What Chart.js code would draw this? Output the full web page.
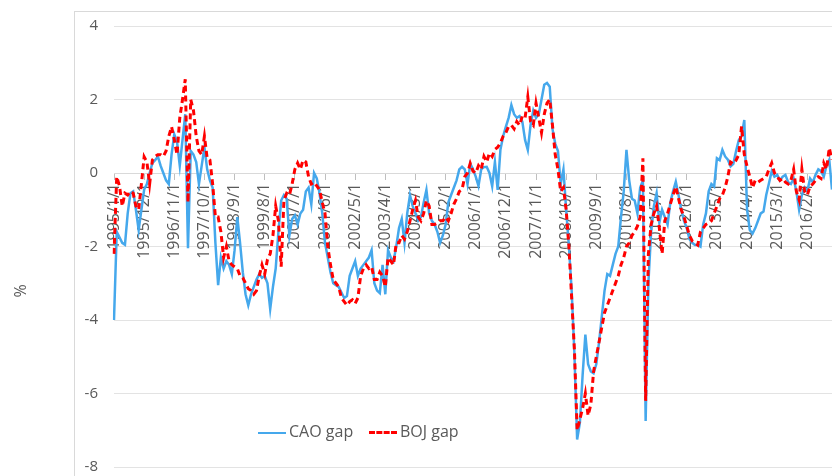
<!DOCTYPE html>
<html>
<head>
<meta charset="utf-8">
<script src="https://cdn.jsdelivr.net/npm/chart.js@4.4.0/dist/chart.umd.min.js"></script>
<style>
  html, body { margin: 0; padding: 0; background: #fff; overflow: hidden; }
  #wrap { position: relative; width: 832px; height: 476px; font-family: "Open Sans", sans-serif; color: #595959; }
  #frame { position: absolute; left: 74px; top: 11px; width: 900px; height: 600px; border: 1px solid #d9d9d9; }
  #chart { position: absolute; left: 0; top: 0; }
  #ytitle { position: absolute; left: 8px; top: 280px; width: 24px; text-align: center; font-size: 16px; transform: rotate(-90deg); }
  .leg { position: absolute; top: 420px; font-size: 16px; white-space: nowrap; }
  .leg span { display: inline-block; vertical-align: middle; width: 28px; margin-right: 3px; }
</style>
</head>
<body>
<div id="wrap">
  <div id="frame"></div>
  <canvas id="chart" width="832" height="476"></canvas>
  <div id="ytitle">%</div>
  <div class="leg" style="left:258px"><span style="border-top:2.5px solid #45a8ec"></span>CAO gap</div>
  <div class="leg" style="left:369px"><span style="border-top:3px dashed #ff0000"></span>BOJ gap</div>
</div>
<script>
// months from 1995/1/1 to 2016/11/1
const months = [];
for (let y = 1995; y <= 2016; y++) {
  for (let m = 1; m <= 12; m++) {
    if (months.length < 263) months.push(y + "/" + m + "/1");
  }
}

const caoGap = [
  // 1995
  -4.0, -1.6, -1.75, -1.9, -1.95, -1.1, -0.55, -0.5, -1.0, -1.55, -1.0, -0.45,
  // 1996
  -0.3, 0.0, 0.27, 0.35, 0.45, 0.2, 0.0, -0.2, -0.3, 0.5, 1.05, 0.85,
  // 1997
  0.2, 0.9, 1.6, -2.05, 0.6, 0.5, 0.3, -0.3, 0.2, 0.7, 0.1, -0.2,
  // 1998
  -0.4, -1.9, -3.05, -2.3, -2.6, -2.4, -2.5, -2.75, -2.1, -1.2, -1.9, -2.7,
  // 1999
  -3.3, -3.6, -3.3, -3.1, -2.9, -2.75, -2.85, -2.8, -3.0, -3.7, -3.1, -2.6,
  // 2000
  -1.6, -0.75, -0.6, -0.7, -1.7, -1.25, -1.15, -1.4, -1.1, -1.0, -0.5, -0.4,
  // 2001
  -0.85, 0.0, -0.15, -0.55, -1.1, -1.9, -2.3, -2.7, -3.0, -3.05, -3.1, -3.25,
  // 2002
  -3.4, -3.35, -2.8, -2.6, -2.4, -2.8, -2.6, -2.5, -2.4, -2.3, -2.1, -3.0,
  // 2003
  -3.2, -3.27, -2.5, -3.3, -2.1, -2.3, -2.4, -2.0, -1.5, -1.25, -1.9, -1.1,
  // 2004
  -0.6, -0.9, -1.1, -1.3, -1.2, -0.8, -0.46, -1.1, -1.3, -1.4, -1.6, -1.9,
  // 2005
  -1.7, -1.4, -0.8, -0.6, -0.4, -0.2, 0.1, 0.17, 0.1, -0.3, 0.25, 0.1,
  // 2006
  -0.1, -0.35, 0.1, 0.16, 0.17, 0.0, -0.36, 0.3, -0.46, 0.63, 1.0, 1.26,
  // 2007
  1.5, 1.85, 1.6, 1.5, 1.55, 1.4, 0.9, 0.63, 1.3, 1.7, 1.5, 1.6,
  // 2008
  2.0, 2.4, 2.45, 2.35, 1.2, 0.8, 0.6, -0.3, 0.1, -1.0, -2.0, -3.2,
  // 2009
  -4.9, -7.25, -6.8, -5.5, -4.4, -5.2, -5.4, -5.45, -5.2, -4.6, -3.9, -3.2,
  // 2010
  -2.75, -2.8, -2.5, -2.2, -2.0, -1.2, -0.5, 0.63, -0.2, -0.7, -0.75, -1.1,
  // 2011
  -0.4, -0.2, -6.75, -3.0, -1.6, -0.9, -0.55, -1.35, -1.0, -1.2, -1.4, -0.8,
  // 2012
  -0.5, -0.24, -0.6, -1.0, -1.3, -1.5, -1.8, -1.9, -1.96, -1.95, -2.0, -1.4,
  // 2013
  -1.1, -0.5, -0.3, -0.37, 0.4, 0.35, 0.63, 0.45, 0.36, 0.18, 0.25, 0.6,
  // 2014
  0.9, 1.0, 1.44, -1.0, -1.55, -1.65, -1.5, -1.3, -1.1, -1.05, -0.6, -0.28,
  // 2015
  0.05, -0.1, -0.05, -0.2, -0.1, -0.05, -0.25, -0.3, -0.15, -0.5, -1.0, -0.6,
  // 2016
  -0.4, -0.5, -0.15, -0.25, -0.05, 0.1, 0.05, -0.1, 0.2, 0.36, -0.45
];

const bojGap = [
  // 1995
  -2.2, -0.1, -0.35, -0.9, -0.55, -0.6, -0.5, -0.55, -0.9, -1.0, -0.3, 0.44,
  // 1996
  0.3, -0.3, 0.35, 0.45, 0.5, 0.5, 0.45, 0.6, 1.0, 1.26, 0.9, 0.5,
  // 1997
  1.5, 2.0, 2.55, -0.8, 2.0, 1.7, 1.0, 0.6, 0.5, 1.0, 0.4, 0.35,
  // 1998
  -0.3, -1.2, -1.2, -1.6, -2.3, -2.0, -2.4, -2.5, -2.55, -2.6, -2.8, -2.85,
  // 1999
  -3.0, -3.15, -3.2, -3.3, -3.2, -2.8, -2.5, -2.75, -2.35, -2.2, -1.7, -0.9,
  // 2000
  -1.3, -2.55, -0.75, -0.55, -0.6, -0.3, 0.1, 0.27, 0.1, 0.35, 0.3, -0.1,
  // 2001
  -0.3, -0.25, -0.35, -0.46, -0.8, -1.1, -2.0, -2.5, -2.9, -3.0, -3.1, -3.4,
  // 2002
  -3.5, -3.6, -3.5, -3.45, -3.55, -3.4, -2.8, -2.6, -2.5, -2.6, -2.55, -2.9,
  // 2003
  -2.9, -2.7, -2.8, -3.1, -2.3, -2.4, -2.5, -1.9, -1.9, -1.7, -1.8, -1.6,
  // 2004
  -1.3, -1.0, -0.75, -1.2, -1.3, -1.1, -0.75, -0.9, -1.4, -1.4, -1.36, -1.3,
  // 2005
  -1.3, -1.2, -1.3, -1.1, -0.85, -0.7, -0.5, -0.45, -0.1, 0.0, 0.26, 0.05,
  // 2006
  0.0, 0.2, 0.1, 0.45, 0.3, 0.54, 0.45, 0.64, 0.7, 0.82, 1.0, 1.1,
  // 2007
  1.27, 1.3, 1.2, 1.4, 1.3, 1.55, 1.5, 2.07, 1.4, 1.3, 1.9, 1.5,
  // 2008
  1.1, 1.6, 1.9, 2.0, 1.3, 0.5, 0.1, -0.5, -0.4, -1.0, -2.0, -3.4,
  // 2009
  -4.8, -7.0, -6.7, -6.4, -6.0, -6.6, -6.3, -5.4, -5.0, -4.6, -4.2, -3.8,
  // 2010
  -3.6, -3.4, -3.2, -3.0, -2.8, -2.5, -2.3, -2.0, -1.9, -1.7, -1.6, -1.45,
  // 2011
  -1.2, 0.4, -6.2, -2.2, -1.4, -1.1, -0.9, -1.5, -2.2, -1.3, -1.1, -0.85,
  // 2012
  -0.6, -0.37, -0.7, -1.0, -1.2, -1.45, -1.7, -1.85, -1.9, -1.96, -1.6, -1.5,
  // 2013
  -1.4, -1.36, -1.3, -1.1, -0.9, -0.7, -0.6, -0.4, -0.1, 0.3, 0.25, 0.35,
  // 2014
  0.5, 1.27, 0.5, 0.18, -0.1, -0.4, -0.2, -0.25, -0.2, -0.15, -0.1, 0.1,
  // 2015
  0.27, 0.0, -0.1, -0.2, -0.15, -0.25, -0.3, -0.2, 0.1, -0.5, -0.73, 0.1,
  // 2016
  -0.5, -0.6, -0.36, -0.3, -0.2, -0.1, -0.15, 0.27, 0.1, 0.68, 0.36
];

const labelStep = 11;
const textColor = "#595959";

new Chart(document.getElementById("chart"), {
  type: "line",
  data: {
    labels: months,
    datasets: [
      {
        label: "CAO gap",
        data: caoGap,
        borderColor: "#45a8ec",
        borderWidth: 2.5,
        pointRadius: 0,
        tension: 0,
        order: 2,
      },
      {
        label: "BOJ gap",
        data: bojGap,
        borderColor: "#ff0000",
        borderWidth: 3,
        borderDash: [6, 4],
        pointRadius: 0,
        tension: 0,
        order: 1,
      },
    ],
  },
  options: {
    responsive: false,
    animation: false,
    layout: { padding: { left: 0, top: 26, right: 0, bottom: 9 } },
    plugins: { legend: { display: false }, tooltip: { enabled: false } },
    scales: {
      x: {
        type: "category",
        position: { y: 0 },
        offset: false,
        grid: { drawOnChartArea: false, tickLength: 6, color: "#bfbfbf" },
        border: { color: "#d9d9d9" },
        ticks: {
          autoSkip: false,
          minRotation: 90,
          maxRotation: 90,
          padding: 4,
          color: textColor,
          font: { family: "Open Sans", size: 16 },
          callback: (val, idx) => (idx % labelStep === 0 ? months[idx] : null),
        },
      },
      y: {
        min: -8,
        max: 4,
        afterFit: (s) => { s.width = 114; },
        grid: { color: "#e3e3e3", drawTicks: true, tickLength: 16, tickColor: "rgba(0,0,0,0)" },
        border: { display: false },
        ticks: {
          stepSize: 2,
          padding: 0,
          color: textColor,
          font: { family: "Open Sans", size: 15 },
        },
      },
    },
  },
});
</script>
</body>
</html>
